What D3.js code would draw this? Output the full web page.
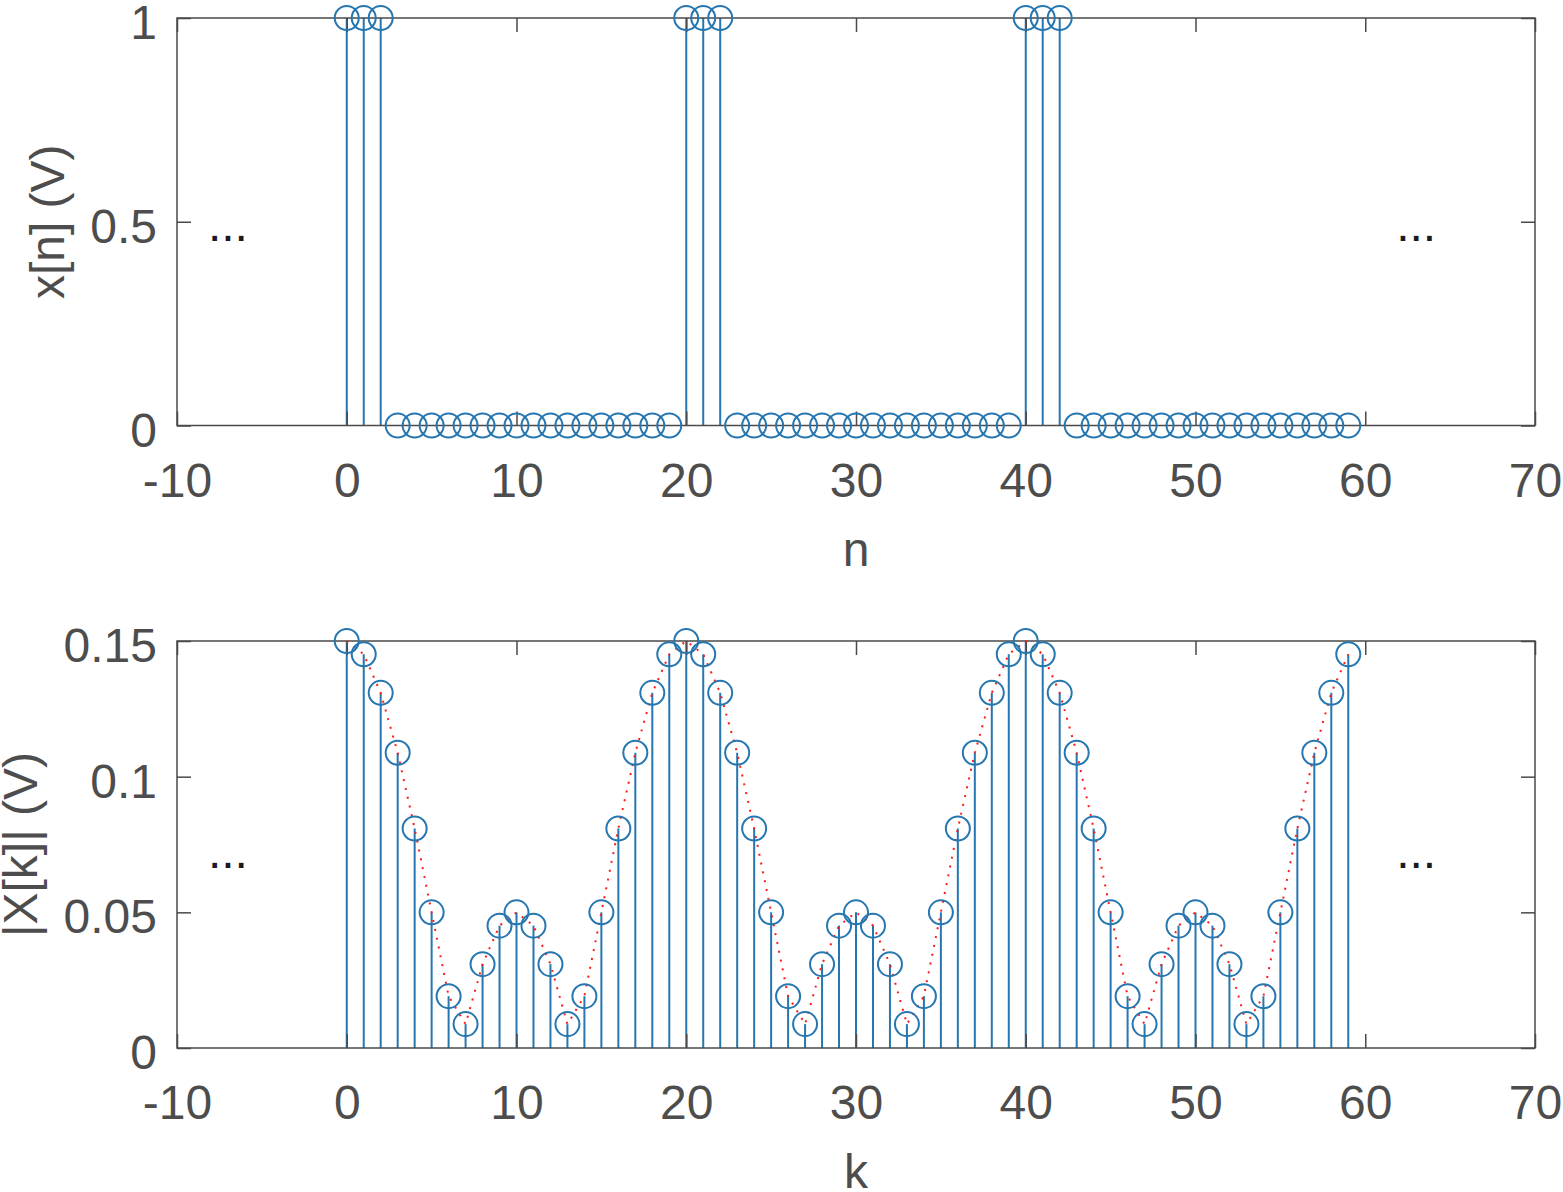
<!DOCTYPE html>
<html>
<head>
<meta charset="utf-8">
<script src="https://cdn.jsdelivr.net/npm/d3@7"></script>
<style>
  html, body { margin: 0; padding: 0; background: #fff; }
  svg { display: block; font-family: "Liberation Sans", Arial, Helvetica, sans-serif; }
</style>
</head>
<body>
<svg id="chart" width="1563" height="1192"></svg>
<script>
// ---------------- data ----------------
const nIndex = [0,1,2,3,4,5,6,7,8,9,10,11,12,13,14,15,16,17,18,19,
                20,21,22,23,24,25,26,27,28,29,30,31,32,33,34,35,36,37,38,39,
                40,41,42,43,44,45,46,47,48,49,50,51,52,53,54,55,56,57,58,59];
const xn = [1,1,1,0,0,0,0,0,0,0,0,0,0,0,0,0,0,0,0,0,
            1,1,1,0,0,0,0,0,0,0,0,0,0,0,0,0,0,0,0,0,
            1,1,1,0,0,0,0,0,0,0,0,0,0,0,0,0,0,0,0,0];
const kIndex = nIndex;
const Xk = [0.15,0.1451,0.1309,0.1088,0.0809,0.05,0.0191,0.0088,0.0309,0.0451,
            0.05,0.0451,0.0309,0.0088,0.0191,0.05,0.0809,0.1088,0.1309,0.1451,
            0.15,0.1451,0.1309,0.1088,0.0809,0.05,0.0191,0.0088,0.0309,0.0451,
            0.05,0.0451,0.0309,0.0088,0.0191,0.05,0.0809,0.1088,0.1309,0.1451,
            0.15,0.1451,0.1309,0.1088,0.0809,0.05,0.0191,0.0088,0.0309,0.0451,
            0.05,0.0451,0.0309,0.0088,0.0191,0.05,0.0809,0.1088,0.1309,0.1451];
const xTicks = [-10,0,10,20,30,40,50,60,70];
const xTickLabels = ["-10","0","10","20","30","40","50","60","70"];
const yTicksTop = [0,0.5,1];
const yTickLabelsTop = ["0","0.5","1"];
const yTicksBottom = [0,0.05,0.1,0.15];
const yTickLabelsBottom = ["0","0.05","0.1","0.15"];

// ---------------- style ----------------
const BLUE = "#2676b0";
const AXIS = "#4a4a4a";
const TEXT = "#4d4d4d";
const FS = 48;

const svg = d3.select("#chart");
const X0 = 177, X1 = 1535;

function panel(cfg) {
  const x = d3.scaleLinear().domain([-10, 70]).range([X0, X1]);
  const y = d3.scaleLinear().domain(cfg.ydom).range([cfg.bottom, cfg.top]);
  const g = svg.append("g");

  // stems
  g.selectAll("line.stem").data(cfg.idx).enter().append("line")
    .attr("x1", d => x(d)).attr("x2", d => x(d))
    .attr("y1", y(0)).attr("y2", (d, i) => y(cfg.vals[i]))
    .attr("stroke", BLUE).attr("stroke-width", 2);

  // axes (ticks inward)
  const fmt = (v) => cfg.yLabels[cfg.yTicks.indexOf(v)];
  const xfmt = (v) => xTickLabels[xTicks.indexOf(v)];
  const ax = [
    g.append("g").attr("transform", `translate(0,${cfg.bottom})`)
      .call(d3.axisBottom(x).tickValues(xTicks).tickSize(-14).tickFormat(xfmt)),
    g.append("g").attr("transform", `translate(0,${cfg.top})`)
      .call(d3.axisTop(x).tickValues(xTicks).tickSize(-14).tickFormat("")),
    g.append("g").attr("transform", `translate(${X0},0)`)
      .call(d3.axisLeft(y).tickValues(cfg.yTicks).tickSize(-14).tickFormat(fmt)),
    g.append("g").attr("transform", `translate(${X1},0)`)
      .call(d3.axisRight(y).tickValues(cfg.yTicks).tickSize(-14).tickFormat(""))
  ];
  ax.forEach(a => {
    a.select(".domain").remove();
    a.selectAll(".tick line").attr("stroke", AXIS).attr("stroke-width", 1.5);
    a.selectAll("text").attr("fill", TEXT).style("font-size", FS + "px")
      .style("font-family", '"Liberation Sans", Arial, Helvetica, sans-serif');
  });
  ax[0].selectAll("text").attr("y", 71).attr("dy", 0);
  ax[2].selectAll("text").attr("x", -20).attr("dy", 0).attr("y", 20.5);

  // box
  g.append("rect").attr("x", X0).attr("y", cfg.top)
    .attr("width", X1 - X0).attr("height", cfg.bottom - cfg.top)
    .attr("fill", "none").attr("stroke", AXIS).attr("stroke-width", 1.5);

  // envelope
  if (cfg.dotted) {
    const line = d3.line().x((d, i) => x(cfg.idx[i])).y(d => y(d));
    g.append("path").datum(cfg.vals).attr("d", line)
      .attr("fill", "none").attr("stroke", "#ff1a1a")
      .attr("stroke-width", 2).attr("stroke-dasharray", "2,7");
  }

  // markers
  g.selectAll("circle").data(cfg.idx).enter().append("circle")
    .attr("cx", d => x(d)).attr("cy", (d, i) => y(cfg.vals[i]))
    .attr("r", 12).attr("fill", "none").attr("stroke", BLUE).attr("stroke-width", 2);

  // ellipsis
  [[-7, cfg.dotsY], [63, cfg.dotsY]].forEach(p => {
    g.append("text").attr("x", x(p[0])).attr("y", y(p[1])).attr("dy", 19)
      .attr("text-anchor", "middle").attr("fill", "#1a1a1a")
      .style("font-size", FS + "px").text("...");
  });

  // axis labels
  g.append("text").attr("x", (X0 + X1) / 2).attr("y", cfg.bottom + 140)
    .attr("text-anchor", "middle").attr("fill", TEXT).style("font-size", FS + "px")
    .text(cfg.xlabel);
  g.append("text")
    .attr("transform", `translate(${cfg.ylabX},${(cfg.top + cfg.bottom) / 2}) rotate(-90)`)
    .attr("text-anchor", "middle").attr("fill", TEXT).style("font-size", FS + "px")
    .text(cfg.ylabel);
}

panel({ idx: nIndex, vals: xn, ydom: [0, 1], top: 18, bottom: 425.5,
        yTicks: yTicksTop, yLabels: yTickLabelsTop, dotted: false, dotsY: 0.5,
        xlabel: "n", ylabel: "x[n] (V)", ylabX: 64 });
panel({ idx: kIndex, vals: Xk, ydom: [0, 0.15], top: 641, bottom: 1048,
        yTicks: yTicksBottom, yLabels: yTickLabelsBottom, dotted: true, dotsY: 0.0735,
        xlabel: "k", ylabel: "|X[k]| (V)", ylabX: 37 });
</script>
</body>
</html>
